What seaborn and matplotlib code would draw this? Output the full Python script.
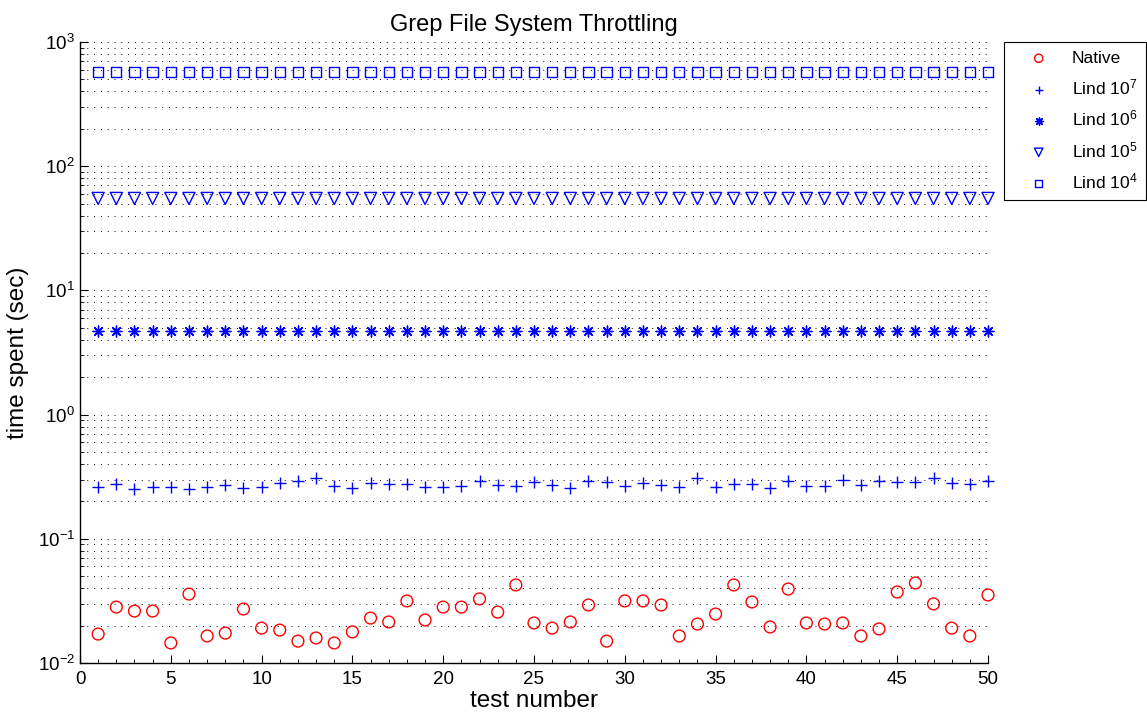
import numpy as np
import pandas as pd
import matplotlib
matplotlib.use("Agg")
import matplotlib.pyplot as plt
import seaborn as sns
from matplotlib.ticker import LogLocator, MultipleLocator, LogFormatterSciNotation, NullFormatter

test_number = list(range(1, 51))

native = [0.0171, 0.0282, 0.0262, 0.0262, 0.0145, 0.0359, 0.0165, 0.0174, 0.0272, 0.0191,
          0.0184, 0.0150, 0.0159, 0.0145, 0.0178, 0.0230, 0.0214, 0.0316, 0.0222, 0.0282,
          0.0282, 0.0328, 0.0257, 0.0425, 0.0210, 0.0191, 0.0214, 0.0293, 0.0150, 0.0316,
          0.0316, 0.0293, 0.0165, 0.0206, 0.0248, 0.0425, 0.0310, 0.0195, 0.0394, 0.0210,
          0.0206, 0.0210, 0.0165, 0.0188, 0.0373, 0.0441, 0.0299, 0.0191, 0.0165, 0.0353]

lind_1e7 = [0.261, 0.278, 0.253, 0.261, 0.261, 0.253, 0.260, 0.270, 0.258, 0.260,
            0.283, 0.290, 0.307, 0.265, 0.258, 0.283, 0.278, 0.278, 0.261, 0.261,
            0.268, 0.292, 0.270, 0.268, 0.287, 0.271, 0.258, 0.290, 0.285, 0.266,
            0.283, 0.273, 0.260, 0.310, 0.261, 0.275, 0.278, 0.258, 0.294, 0.268,
            0.268, 0.297, 0.273, 0.290, 0.285, 0.287, 0.307, 0.280, 0.275, 0.294]

lind_1e6 = [4.7, 4.7, 4.7, 4.7, 4.7, 4.7, 4.7, 4.7, 4.7, 4.7,
            4.7, 4.7, 4.7, 4.7, 4.7, 4.7, 4.7, 4.7, 4.7, 4.7,
            4.7, 4.7, 4.7, 4.7, 4.7, 4.7, 4.7, 4.7, 4.7, 4.7,
            4.7, 4.7, 4.7, 4.7, 4.7, 4.7, 4.7, 4.7, 4.7, 4.7,
            4.7, 4.7, 4.7, 4.7, 4.7, 4.7, 4.7, 4.7, 4.7, 4.7]

lind_1e5 = [55.0, 55.0, 55.0, 55.0, 55.0, 55.0, 55.0, 55.0, 55.0, 55.0,
            55.0, 55.0, 55.0, 55.0, 55.0, 55.0, 55.0, 55.0, 55.0, 55.0,
            55.0, 55.0, 55.0, 55.0, 55.0, 55.0, 55.0, 55.0, 55.0, 55.0,
            55.0, 55.0, 55.0, 55.0, 55.0, 55.0, 55.0, 55.0, 55.0, 55.0,
            55.0, 55.0, 55.0, 55.0, 55.0, 55.0, 55.0, 55.0, 55.0, 55.0]

lind_1e4 = [570.0, 570.0, 570.0, 570.0, 570.0, 570.0, 570.0, 570.0, 570.0, 570.0,
            570.0, 570.0, 570.0, 570.0, 570.0, 570.0, 570.0, 570.0, 570.0, 570.0,
            570.0, 570.0, 570.0, 570.0, 570.0, 570.0, 570.0, 570.0, 570.0, 570.0,
            570.0, 570.0, 570.0, 570.0, 570.0, 570.0, 570.0, 570.0, 570.0, 570.0,
            570.0, 570.0, 570.0, 570.0, 570.0, 570.0, 570.0, 570.0, 570.0, 570.0]

series_labels = ["Native", "Lind $10^7$", "Lind $10^6$", "Lind $10^5$", "Lind $10^4$"]

sns.set_theme(style="white")
plt.rcParams['font.family'] = ['Liberation Sans', 'DejaVu Sans']
plt.rcParams['mathtext.default'] = 'regular'
plt.rcParams['text.color'] = 'black'
plt.rcParams['axes.labelcolor'] = 'black'

fig = plt.figure(figsize=(11.47, 7.17), dpi=100)
ax = fig.add_axes([80 / 1147, 1 - 663 / 717, 908 / 1147, 621 / 717])

specs = [
    (native, "o", "red", 72, 1.0, True),
    (lind_1e7, "+", "blue", 80, 1.0, False),
    (lind_1e6, (8, 2, 0), "blue", 60, 1.0, False),
    (lind_1e5, "v", "blue", 75, 1.0, True),
    (lind_1e4, "s", "blue", 55, 1.0, True),
]

for (vals, mk, col, size, lw, hollow), lab in zip(specs, series_labels):
    df = pd.DataFrame({"test": test_number, "time": vals})
    if hollow:
        sns.scatterplot(data=df, x="test", y="time", marker=mk, s=size,
                        facecolors="none", edgecolor=col, linewidth=lw,
                        label=lab, ax=ax, zorder=3, clip_on=False)
    else:
        sns.scatterplot(data=df, x="test", y="time", marker=mk, s=size,
                        color=col, linewidth=lw, label=lab, ax=ax, zorder=3,
                        clip_on=False)

ax.set_yscale("log")
ax.set_xlim(0, 50)
ax.set_ylim(1e-2, 1e3)
ax.xaxis.set_major_locator(MultipleLocator(5))
ax.xaxis.set_minor_locator(MultipleLocator(1))
ax.yaxis.set_major_locator(LogLocator(base=10, numticks=10))
ax.yaxis.set_minor_locator(LogLocator(base=10, subs=np.arange(2, 10), numticks=20))
ax.yaxis.set_major_formatter(LogFormatterSciNotation())
ax.yaxis.set_minor_formatter(NullFormatter())

ax.grid(True, which="both", axis="y", color="black", linestyle=(0, (1, 6)), linewidth=0.7)
ax.grid(False, axis="x")

for s in ["top", "right"]:
    ax.spines[s].set_visible(False)
for s in ["left", "bottom"]:
    ax.spines[s].set_color("black")
    ax.spines[s].set_linewidth(1.0)

ax.tick_params(axis="both", which="major", direction="in", length=6, width=0.8,
               colors="black", labelsize=13.5, left=True, bottom=True)
ax.tick_params(axis="both", which="minor", direction="in", length=3, width=0.6,
               colors="black", left=True, bottom=True)
ax.tick_params(axis="x", which="major", pad=6)

ax.set_xlabel("test number", fontsize=17.5, labelpad=1, color="black")
ax.set_ylabel("time spent (sec)", fontsize=17.5, labelpad=6, color="black")
ax.set_title("Grep File System Throttling", fontsize=17, pad=8, color="black")

leg = ax.legend(loc="upper left", bbox_to_anchor=(1.0176, 1.0), frameon=True,
                fancybox=False, edgecolor="black", framealpha=1, fontsize=12.5,
                labelspacing=0.66, borderpad=0.5, handletextpad=0.4, borderaxespad=0,
                markerscale=0.7, handlelength=3.0)
leg.get_frame().set_linewidth(0.8)
for t in leg.get_texts():
    t.set_color("black")

fig.savefig("out.png", dpi=100)
